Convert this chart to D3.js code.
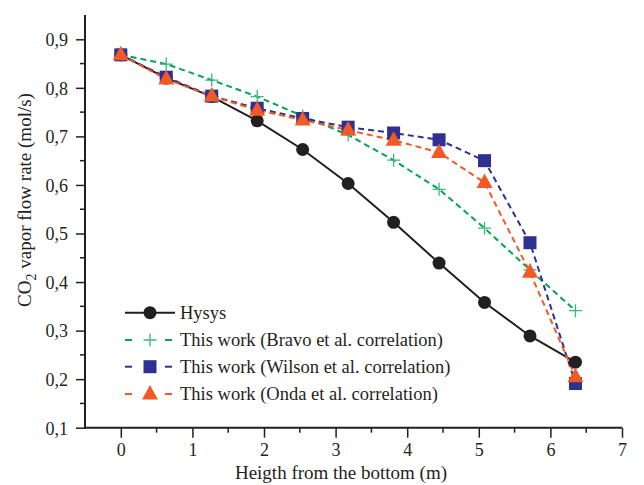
<!DOCTYPE html>
<html><head><meta charset="utf-8">
<script src="https://cdn.jsdelivr.net/npm/d3@7"></script>
<style>body{margin:0;background:#fff}svg{display:block}svg text{font-family:'Liberation Serif','Times New Roman','DejaVu Serif',serif !important;fill:#231f20}</style>
</head><body><svg id="c" width="644" height="485"></svg>
<script>
const heights = [0, 0.635, 1.27, 1.905, 2.54, 3.175, 3.81, 4.445, 5.08, 5.715, 6.35];
const hysys  = [0.868, 0.820, 0.782, 0.732, 0.673, 0.603, 0.523, 0.439, 0.358, 0.289, 0.235];
const bravo  = [0.868, 0.849, 0.816, 0.782, 0.742, 0.703, 0.651, 0.591, 0.511, 0.425, 0.341];
const wilson = [0.868, 0.822, 0.783, 0.758, 0.737, 0.719, 0.707, 0.693, 0.650, 0.481, 0.191];
const onda   = [0.868, 0.818, 0.783, 0.754, 0.734, 0.713, 0.692, 0.667, 0.605, 0.420, 0.205];
const seriesNames = ["Hysys", "This work (Bravo et al. correlation)", "This work (Wilson et al. correlation)", "This work (Onda et al. correlation)"];
const xTicks = [0,1,2,3,4,5,6,7];
const yTicks = [0.1,0.2,0.3,0.4,0.5,0.6,0.7,0.8,0.9];

const FONT = "'Liberation Serif','Times New Roman','DejaVu Serif',serif";
const svg = d3.select("#c").attr("font-family", FONT);
const x = d3.scaleLinear().domain([-0.5, 7]).range([85, 622]);
const y = d3.scaleLinear().domain([0.1, 0.9]).range([427.7, 39.3]);
const yTop = 15;

const series = [
  {name: seriesNames[0], vals: hysys, color: "#231f20", dash: null, marker: "circle", mcolor: "#231f20"},
  {name: seriesNames[1], vals: bravo, color: "#00a651", dash: "6,4", marker: "plus", mcolor: "#3cb878"},
  {name: seriesNames[2], vals: wilson, color: "#2e3192", dash: "6,4", marker: "square", mcolor: "#2e3192"},
  {name: seriesNames[3], vals: onda, color: "#f15a24", dash: "6,4", marker: "triangle", mcolor: "#f15a24"}
];

function drawMarker(g, type, cx, cy, color) {
  if (type === "circle") g.append("circle").attr("cx", cx).attr("cy", cy).attr("r", 6.5).attr("fill", color);
  else if (type === "square") g.append("rect").attr("x", cx-6.5).attr("y", cy-6.5).attr("width", 13).attr("height", 13).attr("fill", color);
  else if (type === "triangle") g.append("path").attr("d", `M${cx},${cy-9}L${cx+8},${cy+5.5}L${cx-8},${cy+5.5}Z`).attr("fill", color);
  else if (type === "plus") g.append("path").attr("d", `M${cx-6.5},${cy}H${cx+6.5}M${cx},${cy-6.5}V${cy+6.5}`)
    .attr("stroke", color).attr("stroke-width", 1.3).attr("fill", "none");
}

// axes
const yAxis = d3.axisLeft(y).tickValues(yTicks).tickSize(9).tickFormat(d => d3.format(".1f")(d).replace(".", ","));
const gy = svg.append("g").attr("transform", "translate(85,0)").call(yAxis).attr("font-family", FONT);
gy.select(".domain").remove();
gy.append("line").attr("x1", 0).attr("x2", 0).attr("y1", yTop).attr("y2", 428.7).attr("stroke", "#231f20").attr("stroke-width", 2);
gy.selectAll(".tick line").attr("stroke", "#231f20").attr("stroke-width", 1.5);
gy.selectAll(".tick text").attr("font-size", 18).attr("x", -17).attr("dy", "0.35em");
const yMinor = d3.range(0.15, 0.95, 0.1);
gy.selectAll(".minor").data(yMinor).enter().append("line").attr("x1", -5).attr("x2", 0)
  .attr("y1", d => y(d)).attr("y2", d => y(d)).attr("stroke", "#231f20").attr("stroke-width", 1.5);

const xAxis = d3.axisBottom(x).tickValues(xTicks).tickSize(10).tickFormat(d3.format("d"));
const gx = svg.append("g").attr("transform", `translate(0,${y(0.1)})`).call(xAxis).attr("font-family", FONT);
gx.select(".domain").remove();
gx.append("line").attr("x1", 84).attr("x2", 622).attr("y1", 0).attr("y2", 0).attr("stroke", "#231f20").attr("stroke-width", 2);
gx.selectAll(".tick line").attr("stroke", "#231f20").attr("stroke-width", 1.5);
gx.selectAll(".tick text").attr("font-size", 18).attr("y", 14).attr("dy", "0.78em");
const xMinor = d3.range(0.5, 7, 1);
gx.selectAll(".minor").data(xMinor).enter().append("line").attr("y1", 0).attr("y2", 5)
  .attr("x1", d => x(d)).attr("x2", d => x(d)).attr("stroke", "#231f20").attr("stroke-width", 1.5);

// axis titles
svg.append("text").attr("x", 341).attr("y", 479).attr("text-anchor", "middle").attr("font-size", 19).text("Heigth from the bottom (m)");
const yt = svg.append("text").attr("transform", "translate(31,200) rotate(-90)").attr("text-anchor", "middle").attr("font-size", 19);
yt.append("tspan").text("CO");
yt.append("tspan").attr("dy", 5).attr("font-size", 14).text("2");
yt.append("tspan").attr("dy", -5).text(" vapor flow rate (mol/s)");

// lines
const line = d3.line().x((d, i) => x(heights[i])).y(d => y(d));
const plot = svg.append("g");
series.forEach(s => {
  plot.append("path").datum(s.vals).attr("d", line).attr("fill", "none").attr("stroke", s.color)
    .attr("stroke-width", 2).attr("stroke-dasharray", s.dash);
});
series.forEach(s => {
  const g = plot.append("g");
  s.vals.forEach((v, i) => drawMarker(g, s.marker, x(heights[i]), y(v), s.mcolor));
});

// legend
const legY = [312.7, 340, 366.7, 394];
series.forEach((s, i) => {
  const g = svg.append("g");
  if (s.dash) {
    g.append("line").attr("x1", 125).attr("x2", 132).attr("y1", legY[i]).attr("y2", legY[i]).attr("stroke", s.color).attr("stroke-width", 2);
    g.append("line").attr("x1", 165).attr("x2", 172).attr("y1", legY[i]).attr("y2", legY[i]).attr("stroke", s.color).attr("stroke-width", 2);
  } else {
    g.append("line").attr("x1", 125).attr("x2", 175).attr("y1", legY[i]).attr("y2", legY[i]).attr("stroke", s.color).attr("stroke-width", 2);
  }
  drawMarker(g, s.marker, 150, legY[i], s.mcolor);
  g.append("text").attr("x", 180).attr("y", legY[i]).attr("dy", "0.35em").attr("font-size", 18.5).text(s.name);
});
</script></body></html>
